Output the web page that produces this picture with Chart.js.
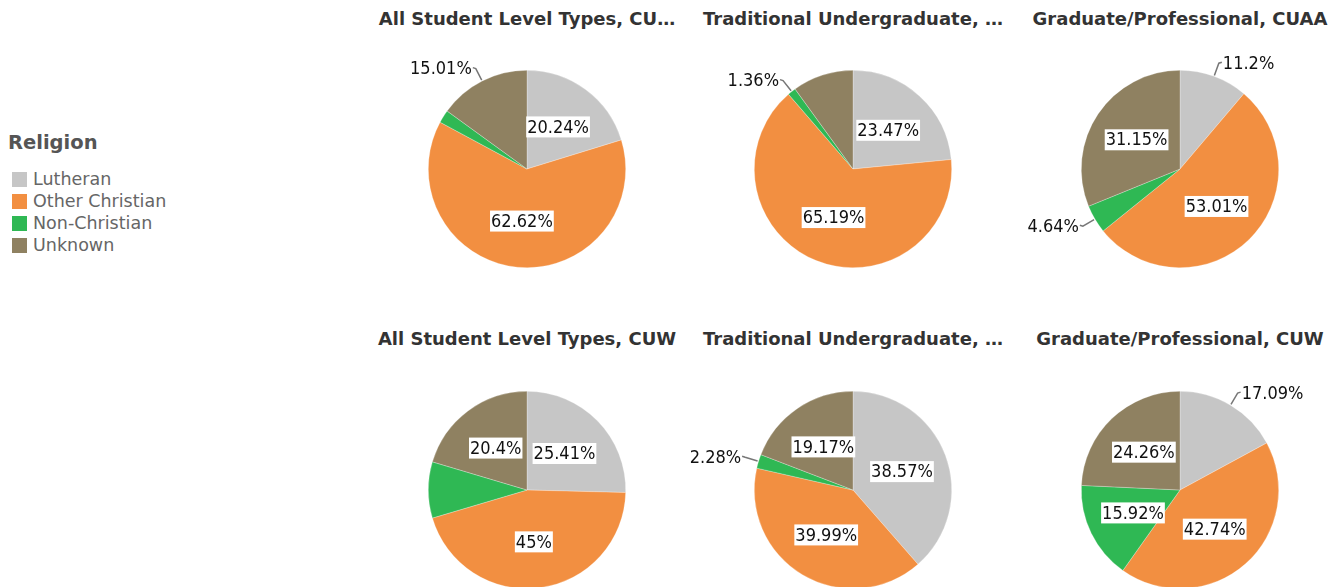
<!DOCTYPE html>
<html>
<head>
<meta charset="utf-8">
<script src="https://cdn.jsdelivr.net/npm/chart.js@4/dist/chart.umd.min.js"></script>
<style>
  html, body { margin:0; padding:0; background:#fff; width:1342px; height:587px; overflow:hidden; position:relative; }
  .title { position:absolute; width:340px; text-align:center; font-family:"DejaVu Sans",sans-serif; font-weight:bold; font-size:18px; color:#333; white-space:nowrap; }
  .box { position:absolute; width:380px; height:260px; }
  #legend { position:absolute; left:8px; top:130px; font-family:"DejaVu Sans",sans-serif; color:#666; }
  #legend .lt { font-weight:bold; font-size:19.5px; color:#555; margin-bottom:12px; height:26px; line-height:26px; }
  #legend .it { font-size:17.5px; height:22px; line-height:22px; display:flex; align-items:center; }
  #legend .sw { width:15px; height:15px; margin:0 6px 0 4px; }
</style>
</head>
<body>
<div id="legend"></div>
<script>
// ---- data ----
const categories = ['Lutheran', 'Other Christian', 'Non-Christian', 'Unknown'];
const legendTitle = 'Religion';
const chartTitles = [
  'All Student Level Types, CU…',
  'Traditional Undergraduate, …',
  'Graduate/Professional, CUAA',
  'All Student Level Types, CUW',
  'Traditional Undergraduate, …',
  'Graduate/Professional, CUW'
];
const cuaaAll  = [20.24, 62.62, 2.13, 15.01];
const cuaaTrad = [23.47, 65.19, 1.36, 9.98];
const cuaaGrad = [11.2, 53.01, 4.64, 31.15];
const cuwAll   = [25.41, 45, 9.19, 20.4];
const cuwTrad  = [38.57, 39.99, 2.28, 19.17];
const cuwGrad  = [17.09, 42.74, 15.92, 24.26];
const seriesList = [cuaaAll, cuaaTrad, cuaaGrad, cuwAll, cuwTrad, cuwGrad];

// ---- styles ----
const colors = ['#c6c6c6', '#f28f41', '#2fb854', '#8f8161'];
// label placement per chart: i = inside, o = outside with leader line, n = none
const labelModes = [
  ['i','i','n','o'],
  ['i','i','o','n'],
  ['o','i','o','i'],
  ['i','i','n','i'],
  ['i','i','o','i'],
  ['o','i','i','i']
];
const centers = [[527,169],[853,169],[1180,169],[527,490],[853,490],[1180,490]];
const titleY = [8, 8, 8, 328, 328, 328];

// legend
const lg = document.getElementById('legend');
lg.innerHTML = '<div class="lt">' + legendTitle + '</div>' +
  categories.map((c,i)=>'<div class="it"><span class="sw" style="background:'+colors[i]+'"></span>'+c+'</div>').join('');

const labelPlugin = {
  id: 'pieLabels',
  afterDatasetsDraw(chart) {
    const ctx = chart.ctx;
    const meta = chart.getDatasetMeta(0);
    const vals = chart.data.datasets[0].data;
    const modes = chart.options.plugins.pieLabels.modes;
    ctx.save();
    ctx.font = '18px "DejaVu Sans Condensed", "DejaVu Sans", sans-serif';
    ctx.textBaseline = 'middle';
    meta.data.forEach((arc, i) => {
      const m = modes[i];
      if (m === 'n') return;
      const txt = String(vals[i]) + '%';
      const w = ctx.measureText(txt).width;
      if (m === 'i') {
        const a = (arc.startAngle + arc.endAngle) / 2;
        const rr = arc.outerRadius * 0.53;
        const px = arc.x + Math.cos(a) * rr, py = arc.y + Math.sin(a) * rr;
        ctx.fillStyle = '#fff';
        ctx.fillRect(px - w/2 - 1, py - 10.5, w + 2, 21);
        ctx.fillStyle = '#111';
        ctx.textAlign = 'center';
        ctx.fillText(txt, px, py + 1);
      } else {
        const a = (arc.startAngle + arc.endAngle) / 2;
        const r = arc.outerRadius;
        const cx = arc.x, cy = arc.y;
        const dx = Math.cos(a), dy = Math.sin(a);
        const x1 = cx + dx*(r+1), y1 = cy + dy*(r+1);
        const x2 = cx + dx*(r+14), y2 = cy + dy*(r+14);
        ctx.strokeStyle = '#777';
        ctx.lineWidth = 1.5;
        ctx.beginPath(); ctx.moveTo(x1,y1); ctx.lineTo(x2,y2);
        const right = dx >= 0;
        const x3 = x2 + (right ? 3 : -3);
        ctx.lineTo(x3, y2 - 1); ctx.stroke();
        ctx.fillStyle = '#111';
        ctx.textAlign = right ? 'left' : 'right';
        ctx.fillText(txt, x3 + (right ? 1 : -1), y2 + 1);
      }
    });
    ctx.restore();
  }
};

seriesList.forEach((vals, k) => {
  const [cx, cy] = centers[k];
  const t = document.createElement('div');
  t.className = 'title';
  t.style.left = (cx - 170) + 'px';
  t.style.top = titleY[k] + 'px';
  t.textContent = chartTitles[k];
  document.body.appendChild(t);
  const box = document.createElement('div');
  box.className = 'box';
  box.style.left = (cx - 190) + 'px';
  box.style.top = (cy - 130) + 'px';
  const cv = document.createElement('canvas');
  box.appendChild(cv);
  document.body.appendChild(box);
  new Chart(cv, {
    type: 'pie',
    data: { labels: categories, datasets: [{ data: vals, backgroundColor: colors, borderColor: 'rgba(255,255,255,0.45)', borderWidth: 0.6, hoverOffset: 0 }] },
    options: {
      responsive: true, maintainAspectRatio: false, animation: false,
      layout: { padding: { top: 31, bottom: 31, left: 0, right: 0 } },
      events: [],
      plugins: { legend: { display: false }, tooltip: { enabled: false }, title: { display: false }, pieLabels: { modes: labelModes[k] } }
    },
    plugins: [labelPlugin]
  });
});
</script>
</body>
</html>
